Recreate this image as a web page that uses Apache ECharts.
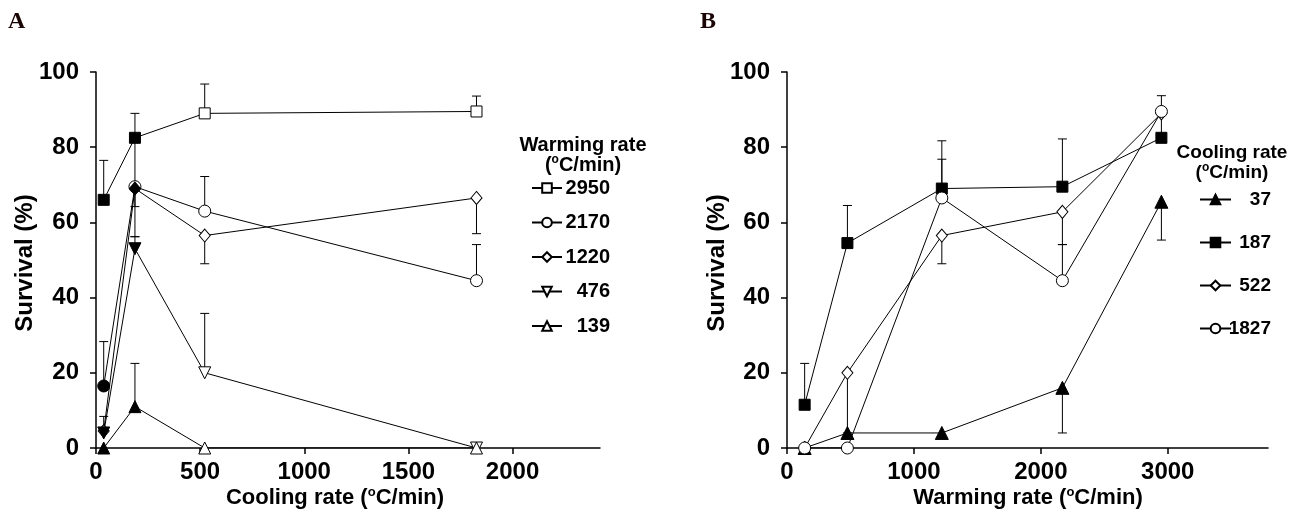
<!DOCTYPE html>
<html>
<head>
<meta charset="utf-8">
<title>Survival vs cooling / warming rate</title>
<script src="https://cdn.jsdelivr.net/npm/echarts@6/dist/echarts.min.js"></script>
<style>
  html, body { margin: 0; padding: 0; background: #fff; }
  #chart { width: 1301px; height: 515px; }
</style>
</head>
<body>
<div id="chart"></div>
<script>
// Panel A: x = cooling rate, one series per warming rate
const coolingRates = [37, 187, 522, 1827];
const warmingNamesA = ['2950', '2170', '1220', '476', '139'];
const surv2950 = [66, 82.5, 89, 89.5];
const surv2170 = [16.5, 69.5, 63, 44.5];
const surv1220 = [4.5, 69, 56.5, 66.5];
const surv476 = [4, 53, 20, 0];
const surv139 = [0, 11, 0, 0];
// error bars A: [x, from, to]
const errA = [
  [37, 66, 76.5], [37, 16.5, 28.3], [37, 4.6, 8.4],
  [187, 82.5, 89], [187, 82.5, 69.5], [187, 69.5, 64.2], [187, 69, 56.2], [187, 53, 56.2], [187, 11, 22.5],
  [522, 89, 96.8], [522, 63, 72.2], [522, 56.5, 49], [522, 20, 35.8],
  [1827, 89.5, 93.6], [1827, 66.5, 57], [1827, 44.5, 54.1]
];

// Panel B: x = warming rate, one series per cooling rate
const warmingRates = [139, 476, 1220, 2170, 2950];
const coolingNamesB = ['37', '187', '522', '1827'];
const surv37 = [0, 4, 4, 16, 65.5];
const surv187 = [11.5, 54.5, 69, 69.5, 82.5];
const surv522 = [0, 20, 56.5, 62.8, 89];
const surv1827 = [0, 0, 66.5, 44.5, 89.5];
const errB = [
  [139, 11.5, 22.5], [476, 54.5, 64.5], [1220, 69, 81.7], [2170, 69.5, 82.2],
  [1220, 66.5, 76.8], [2950, 89.5, 93.7], [2170, 44.5, 54.1], [2170, 62.8, 54.1],
  [476, 20, 4], [1220, 56.5, 49], [2170, 16, 4], [2950, 65.5, 55.3], [2950, 82.5, 89.5]
];

const xTicksA = [0, 500, 1000, 1500, 2000];
const xTicksB = [0, 1000, 2000, 3000];

const FONT = '"Liberation Sans", Arial, sans-serif';

const chart = echarts.init(document.getElementById('chart'), null, { renderer: 'canvas' });

// error bar: vertical stem + cap at the far end
function errorBar(params, api) {
  const x = api.value(0);
  const p0 = api.coord([x, api.value(1)]);
  const p1 = api.coord([x, api.value(2)]);
  const st = { stroke: '#000', lineWidth: 1 };
  return {
    type: 'group',
    children: [
      { type: 'line', shape: { x1: p0[0], y1: p0[1], x2: p1[0], y2: p1[1] }, style: st },
      { type: 'line', shape: { x1: p1[0] - 4.5, y1: p1[1], x2: p1[0] + 4.5, y2: p1[1] }, style: st }
    ]
  };
}

function lineSeries(name, xs, ys, idx, symbol, size, opts) {
  const solid = opts.solid || [];
  return {
    type: 'line',
    name: name,
    xAxisIndex: idx,
    yAxisIndex: idx,
    symbol: symbol,
    symbolSize: size,
    symbolRotate: opts.rotate || 0,
    showAllSymbol: true,
    z: 3,
    lineStyle: { color: '#000', width: 1 },
    itemStyle: { color: opts.fill || '#fff', borderColor: '#000', borderWidth: 1, opacity: 1 },
    emphasis: { disabled: true },
    data: xs.map((x, i) => {
      const d = { value: [x, ys[i]] };
      if (solid.indexOf(i) > -1) d.itemStyle = { color: opts.solidColor || '#000' };
      return d;
    })
  };
}

function valueAxisX(idx, max, ticks) {
  return {
    type: 'value',
    gridIndex: idx,
    min: 0,
    max: max,
    splitLine: { show: false },
    axisLine: { lineStyle: { color: '#000', width: 1.5 } },
    axisTick: { length: 6, lineStyle: { color: '#000', width: 1.5 }, customValues: ticks },
    axisLabel: {
      customValues: ticks, formatter: v => String(v),
      color: '#000', fontFamily: FONT, fontWeight: 'bold', fontSize: 24, margin: 12
    }
  };
}

function valueAxisY(idx) {
  return {
    type: 'value',
    gridIndex: idx,
    min: 0,
    max: 100,
    interval: 20,
    splitLine: { show: false },
    axisLine: { show: true, lineStyle: { color: '#000', width: 1.5 } },
    axisTick: { show: true, length: 6, lineStyle: { color: '#000', width: 1.5 } },
    axisLabel: { color: '#000', fontFamily: FONT, fontWeight: 'bold', fontSize: 24, margin: 17 }
  };
}

// "(°C/min)" with raised o
const unitRich = {
  b: { fontFamily: FONT, fontWeight: 'bold', fontSize: 22, fill: '#000' },
  s: { fontFamily: FONT, fontWeight: 'bold', fontSize: 13, fill: '#000', padding: [0, 0, 11, 0] }
};

function boldText(x, y, text, size, rotate) {
  return {
    type: 'text',
    x: x, y: y,
    rotation: rotate || 0,
    style: {
      text: text, fill: '#000', fontFamily: FONT, fontWeight: 'bold', fontSize: size,
      align: 'center', verticalAlign: 'middle'
    }
  };
}

function legendTitle(x, y, text, size) {
  return [
    boldText(x, y, text, size),
    {
      type: 'text', x: x, y: y + 20,
      style: {
        text: '{b|(}{s|o}{b|C/min)}', align: 'center', verticalAlign: 'middle',
        rich: {
          b: { fontFamily: FONT, fontWeight: 'bold', fontSize: size, fill: '#000' },
          s: { fontFamily: FONT, fontWeight: 'bold', fontSize: 12, fill: '#000', padding: [0, 0, 10, 0] }
        }
      }
    }
  ];
}

function axisTitle(x, y, text) {
  return {
    type: 'text', x: x, y: y,
    style: { text: '{b|' + text + ' (}{s|o}{b|C/min)}', align: 'center', verticalAlign: 'middle', rich: unitRich }
  };
}

const option = {
  animation: false,
  backgroundColor: '#fff',
  grid: [
    { left: 96, top: 72, width: 504, height: 376 },
    { left: 787, top: 72, width: 481, height: 376 }
  ],
  xAxis: [valueAxisX(0, 2420, xTicksA), valueAxisX(1, 3790, xTicksB)],
  yAxis: [valueAxisY(0), valueAxisY(1)],
  legend: [
    {
      data: warmingNamesA,
      orient: 'vertical',
      left: 531, top: 178, padding: 0,
      itemWidth: 30, itemHeight: 12, itemGap: 14.5,
      selectedMode: false,
      formatter: name => '{n|' + name + '}',
      textStyle: { rich: { n: { width: 43, height: 20, align: 'right', fontFamily: FONT, fontWeight: 'bold', fontSize: 20, color: '#000' } } }
    },
    {
      data: coolingNamesB,
      orient: 'vertical',
      left: 1199, top: 190, padding: 0,
      itemWidth: 31, itemHeight: 12, itemGap: 24,
      selectedMode: false,
      formatter: name => '{n|' + name + '}',
      textStyle: { rich: { n: { width: 35, height: 20, align: 'right', fontFamily: FONT, fontWeight: 'bold', fontSize: 19, color: '#000' } } }
    }
  ],
  graphic: [
    { type: 'text', left: 8, top: 10, style: { text: 'A', fill: '#1a0505', fontFamily: '"Liberation Serif", "Times New Roman", serif', fontWeight: 'bold', fontSize: 24 } },
    { type: 'text', left: 700, top: 10, style: { text: 'B', fill: '#1a0505', fontFamily: '"Liberation Serif", "Times New Roman", serif', fontWeight: 'bold', fontSize: 24 } },
    boldText(25, 263, 'Survival (%)', 24, Math.PI / 2),
    boldText(717, 263, 'Survival (%)', 24, Math.PI / 2),
    axisTitle(335, 498, 'Cooling rate'),
    axisTitle(1028, 498, 'Warming rate'),
    ...legendTitle(583, 145, 'Warming rate', 20),
    ...legendTitle(1232, 153, 'Cooling rate', 19)
  ],
  series: [
    { type: 'custom', name: 'errA', xAxisIndex: 0, yAxisIndex: 0, z: 1, renderItem: errorBar, encode: { x: 0, y: [1, 2] }, data: errA },
    { type: 'custom', name: 'errB', xAxisIndex: 1, yAxisIndex: 1, z: 1, renderItem: errorBar, encode: { x: 0, y: [1, 2] }, data: errB },
    // panel A
    lineSeries('2950', coolingRates, surv2950, 0, 'rect', 11, { solid: [0, 1] }),
    lineSeries('2170', coolingRates, surv2170, 0, 'circle', 12, { solid: [0] }),
    lineSeries('1220', coolingRates, surv1220, 0, 'diamond', [11, 13], { solid: [1] }),
    lineSeries('476', coolingRates, surv476, 0, 'triangle', 12, { solid: [0, 1], rotate: 180 }),
    lineSeries('139', coolingRates, surv139, 0, 'triangle', 12, { solid: [0, 1] }),
    // panel B
    lineSeries('37', warmingRates, surv37, 1, 'triangle', 13, { fill: '#000' }),
    lineSeries('187', warmingRates, surv187, 1, 'rect', 11, { fill: '#000' }),
    lineSeries('522', warmingRates, surv522, 1, 'diamond', [11, 13], {}),
    lineSeries('1827', warmingRates, surv1827, 1, 'circle', 12, {})
  ]
};

// grey diamond at the lowest cooling rate in A
option.series[4].data[0].itemStyle = { color: '#777' };

chart.setOption(option);
</script>
</body>
</html>
